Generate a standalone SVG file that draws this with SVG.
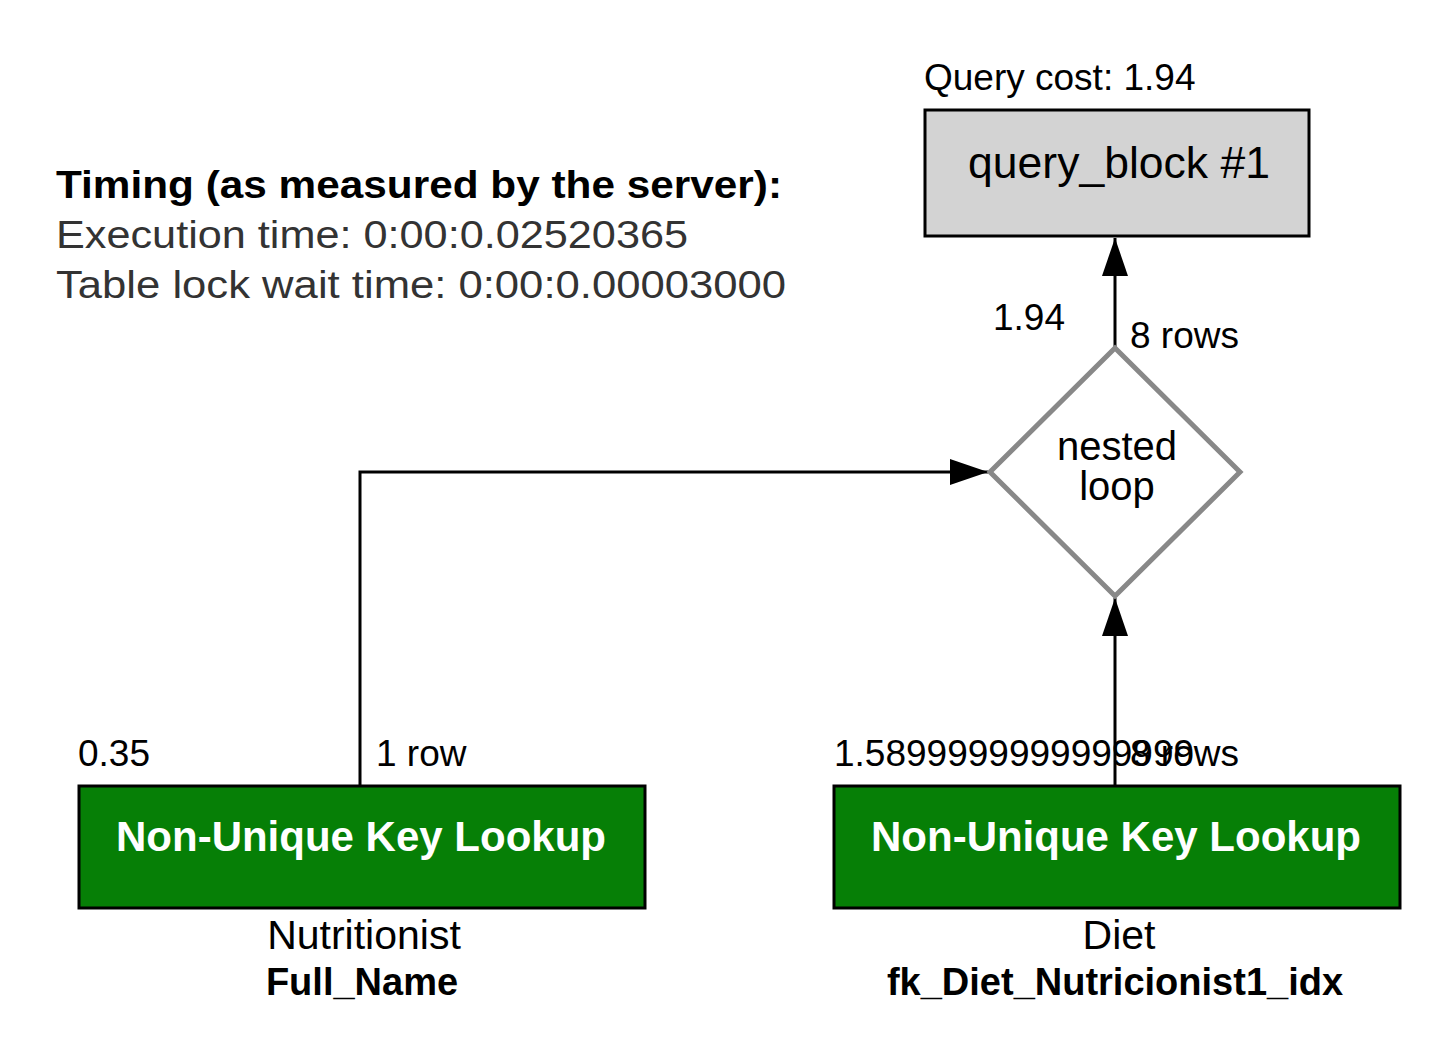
<svg xmlns="http://www.w3.org/2000/svg" width="1448" height="1040" viewBox="0 0 1448 1040">
<style>
text{font-family:"Liberation Sans",Arial,Helvetica,sans-serif;fill:#000}
.lbl{font-size:37px}
.tbl{font-size:41px;text-anchor:middle}
.idx{font-size:38px;font-weight:bold;text-anchor:middle}
.op{font-size:42px;font-weight:bold;fill:#fff;text-anchor:middle}
.green{fill:#067f06;stroke:#000;stroke-width:3}
.conn{fill:none;stroke:#000;stroke-width:3}
.timing{font-size:38px;fill:#333}
</style>
<defs>
<marker id="arr" markerUnits="userSpaceOnUse" markerWidth="40" markerHeight="28" refX="38" refY="13" orient="auto">
<path d="M0,0 L38,13 L0,26 z" fill="#000"/>
</marker>
</defs>
<rect width="1448" height="1040" fill="#fff"/>
<g id="timing">
<text x="56" y="198" font-size="38" font-weight="bold" textLength="726" lengthAdjust="spacingAndGlyphs">Timing (as measured by the server):</text>
<text class="timing" x="56" y="248" textLength="632" lengthAdjust="spacingAndGlyphs">Execution time: 0:00:0.02520365</text>
<text class="timing" x="56" y="298" textLength="730" lengthAdjust="spacingAndGlyphs">Table lock wait time: 0:00:0.00003000</text>
</g>
<g id="connectors">
<path class="conn" d="M1115,348 L1115,238" marker-end="url(#arr)"/>
<path class="conn" d="M360,786 L360,472 L988,472" marker-end="url(#arr)"/>
<path class="conn" d="M1115,786 L1115,598" marker-end="url(#arr)"/>
<text class="lbl" x="993" y="330">1.94</text>
<text class="lbl" x="1130" y="348">8 rows</text>
<text class="lbl" x="78" y="766">0.35</text>
<text class="lbl" x="376" y="766">1 row</text>
<text class="lbl" x="834" y="766">1.5899999999999999</text>
<text class="lbl" x="1130" y="766">8 rows</text>
</g>
<g id="query_block">
<text class="lbl" x="924" y="90">Query cost: 1.94</text>
<rect x="925" y="110" width="384" height="126" fill="#d3d3d3" stroke="#000" stroke-width="3"/>
<text x="1119" y="178" font-size="44.5" text-anchor="middle">query_block #1</text>
</g>
<g id="nested_loop">
<path d="M1115,348 L1240,472 L1115,596 L990,472 z" fill="#fff" stroke="#888" stroke-width="5"/>
<text x="1117" y="460" font-size="40" text-anchor="middle">nested</text>
<text x="1117" y="500" font-size="40" text-anchor="middle">loop</text>
</g>
<g id="nutritionist">
<rect class="green" x="79" y="786" width="566" height="122"/>
<text class="op" x="361" y="851">Non-Unique Key Lookup</text>
<text class="tbl" x="364" y="949">Nutritionist</text>
<text class="idx" x="362" y="995">Full_Name</text>
</g>
<g id="diet">
<rect class="green" x="834" y="786" width="566" height="122"/>
<text class="op" x="1116" y="851">Non-Unique Key Lookup</text>
<text class="tbl" x="1119" y="949">Diet</text>
<text class="idx" x="1115" y="995">fk_Diet_Nutricionist1_idx</text>
</g>
</svg>
